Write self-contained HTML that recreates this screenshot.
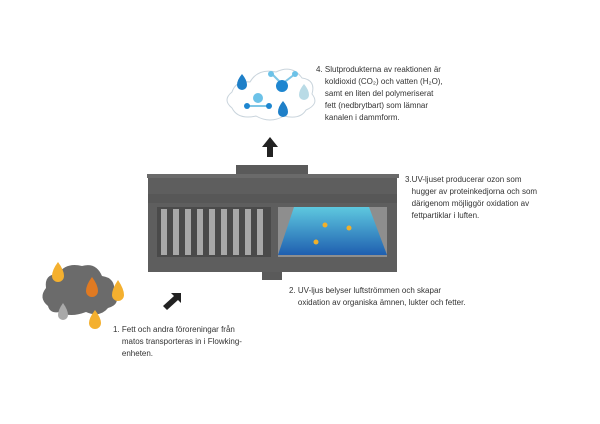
<!DOCTYPE html><html><head><style>
body{margin:0;width:600px;height:424px;background:#fff;position:relative;overflow:hidden;font-family:"Liberation Sans",sans-serif;font-size:8px;color:#333;line-height:12px}
.t{position:absolute}
</style></head><body>
<svg width="600" height="424" style="position:absolute;left:0;top:0">
<defs><linearGradient id="g" x1="0" y1="0" x2="0" y2="1"><stop offset="0" stop-color="#5ec8df"/><stop offset="1" stop-color="#1f5fb0"/></linearGradient></defs>
<!-- cloud top -->
<path d="M232,108 Q222,100 232,92 Q236,80 250,82 Q258,68 276,72 Q292,64 302,78 Q316,80 312,94 Q320,104 306,110 Q300,120 284,116 Q270,124 256,116 Q238,120 232,108Z" fill="#fff" stroke="#c9d4dc" stroke-width="1"/>
<path d="M242,74 Q247,80 247,85 A5,5 0 0 1 237,85 Q237,80 242,74Z" fill="#1e7fc8"/>
<path d="M283,101 Q288,107 288,112 A5,5 0 0 1 278,112 Q278,107 283,101Z" fill="#1e7fc8"/>
<path d="M304,84 Q309,90 309,95 A5,5 0 0 1 299,95 Q299,90 304,84Z" fill="#b9dbe6"/>
<line x1="272" y1="74" x2="282" y2="84" stroke="#7fc6e6" stroke-width="2"/><line x1="295" y1="74" x2="282" y2="84" stroke="#7fc6e6" stroke-width="2"/>
<circle cx="271" cy="74" r="3" fill="#6cc2e8"/><circle cx="295" cy="74" r="3" fill="#6cc2e8"/><circle cx="282" cy="86" r="6" fill="#1e86d0"/>
<line x1="247" y1="106" x2="269" y2="106" stroke="#7fc6e6" stroke-width="2"/>
<circle cx="247" cy="106" r="3" fill="#1e86d0"/><circle cx="269" cy="106" r="3" fill="#1e86d0"/><circle cx="258" cy="98" r="5" fill="#6cc2e8"/>
<!-- up arrow -->
<polygon points="270,137 262,147 267,147 267,157 273,157 273,147 278,147" fill="#222"/>
<!-- device -->
<rect x="236" y="165" width="72" height="11" fill="#5a5a5a"/>
<rect x="147" y="174" width="252" height="4" fill="#6a6a6a"/>
<rect x="148" y="178" width="249" height="94" fill="#5e5e5e"/>
<rect x="148" y="194" width="249" height="9" fill="#575757"/>
<rect x="157" y="207" width="114" height="50" fill="#4a4a4a"/>
<g fill="#a8a8a8"><rect x="161" y="209" width="6" height="46"/><rect x="173" y="209" width="6" height="46"/><rect x="185" y="209" width="6" height="46"/><rect x="197" y="209" width="6" height="46"/><rect x="209" y="209" width="6" height="46"/><rect x="221" y="209" width="6" height="46"/><rect x="233" y="209" width="6" height="46"/><rect x="245" y="209" width="6" height="46"/><rect x="257" y="209" width="6" height="46"/></g>
<rect x="278" y="207" width="109" height="50" fill="#8e8e8e"/>
<polygon points="294,207 369,207 387,255 278,255" fill="url(#g)"/>
<g fill="#f0b02a"><circle cx="325" cy="225" r="2.5"/><circle cx="349" cy="228" r="2.5"/><circle cx="316" cy="242" r="2.5"/></g>
<rect x="148" y="257" width="249" height="15" fill="#5e5e5e"/>
<rect x="262" y="272" width="20" height="8" fill="#5a5a5a"/>
<!-- smoke cloud -->
<path d="M48,306 Q38,298 46,288 Q44,274 58,274 Q66,262 82,266 Q96,262 102,276 Q116,278 114,292 Q122,304 108,308 Q100,318 86,312 Q70,318 60,312 Q50,314 48,306Z" fill="#6b6b6b"/>
<path d="M58,262 Q64,270 64,276 A6,6 0 0 1 52,276 Q52,270 58,262Z" fill="#f4b02f"/>
<path d="M92,277 Q98,285 98,291 A6,6 0 0 1 86,291 Q86,285 92,277Z" fill="#e07a22"/>
<path d="M118,280 Q124,289 124,295 A6,6 0 0 1 112,295 Q112,289 118,280Z" fill="#f4b02f"/>
<path d="M63,303 Q68,310 68,315 A5,5 0 0 1 58,315 Q58,310 63,303Z" fill="#a9a9a9"/>
<path d="M95,310 Q101,318 101,323 A6,6 0 0 1 89,323 Q89,318 95,310Z" fill="#f4b02f"/>
<polygon points="181,293 171,293 174,296 163,306 167,310 178,300 181,303" fill="#222"/>
</svg>
<div class="t" style="left:316px;top:64px">4. Slutprodukterna av reaktionen är<br>&nbsp;&nbsp;&nbsp;&nbsp;koldioxid (CO₂) och vatten (H₂O),<br>&nbsp;&nbsp;&nbsp;&nbsp;samt en liten del polymeriserat<br>&nbsp;&nbsp;&nbsp;&nbsp;fett (nedbrytbart) som lämnar<br>&nbsp;&nbsp;&nbsp;&nbsp;kanalen i dammform.</div>
<div class="t" style="left:405px;top:174px">3.UV-ljuset producerar ozon som<br>&nbsp;&nbsp;&nbsp;hugger av proteinkedjorna och som<br>&nbsp;&nbsp;&nbsp;därigenom möjliggör oxidation av<br>&nbsp;&nbsp;&nbsp;fettpartiklar i luften.</div>
<div class="t" style="left:289px;top:285px">2. UV-ljus belyser luftströmmen och skapar<br>&nbsp;&nbsp;&nbsp;&nbsp;oxidation av organiska ämnen, lukter och fetter.</div>
<div class="t" style="left:113px;top:324px">1. Fett och andra föroreningar från<br>&nbsp;&nbsp;&nbsp;&nbsp;matos transporteras in i Flowking-<br>&nbsp;&nbsp;&nbsp;&nbsp;enheten.</div>
</body></html>
